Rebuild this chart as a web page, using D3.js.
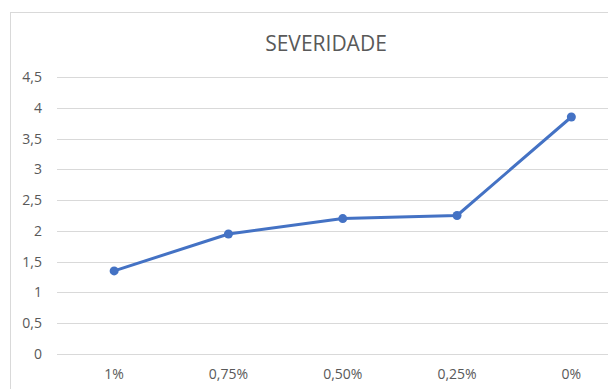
<!DOCTYPE html>
<html>
<head>
<meta charset="utf-8">
<script src="https://cdn.jsdelivr.net/npm/d3@7"></script>
<style>
  html, body { margin: 0; padding: 0; background: #fff; }
  svg { display: block; }
</style>
</head>
<body>
<svg id="chart" width="608" height="389"></svg>
<script>
// Severity by level
const categories = ["1%", "0,75%", "0,50%", "0,25%", "0%"];
const severity = [1.35, 1.95, 2.2, 2.25, 3.85];
const yTicks = [0, 0.5, 1, 1.5, 2, 2.5, 3, 3.5, 4, 4.5];
const title = "SEVERIDADE";

const svg = d3.select("#chart");
const font = "'Open Sans', 'Noto Sans', sans-serif";
const textColor = "#595959";

// chart area frame
svg.append("rect")
  .attr("x", 10.5).attr("y", 12.5)
  .attr("width", 640).attr("height", 400)
  .attr("fill", "#fff")
  .attr("stroke", "#d9d9d9").attr("stroke-width", 1);

const plot = { left: 57, right: 628.5, top: 77, bottom: 354 };

const x = d3.scaleBand()
  .domain(categories)
  .range([plot.left, plot.right]);

const y = d3.scaleLinear()
  .domain([0, 4.5])
  .range([plot.bottom, plot.top]);

const fmt = v => String(v).replace(".", ",");

// horizontal gridlines
svg.append("g")
  .selectAll("line")
  .data(yTicks)
  .join("line")
  .attr("x1", plot.left).attr("x2", plot.right)
  .attr("y1", d => Math.round(y(d)) + 0.5)
  .attr("y2", d => Math.round(y(d)) + 0.5)
  .attr("stroke", "#d9d9d9").attr("stroke-width", 1);

// y axis labels
const yAxis = d3.axisLeft(y).tickValues(yTicks).tickFormat(fmt).tickSize(0).tickPadding(0);
const gy = svg.append("g").attr("transform", `translate(${plot.left - 15},0)`).call(yAxis);
gy.select(".domain").remove();
gy.selectAll("text")
  .attr("fill", textColor)
  .style("font-family", font)
  .style("font-size", "14px");

// x axis labels
const xAxis = d3.axisBottom(x).tickSize(0).tickPadding(0);
const gx = svg.append("g").attr("transform", `translate(0,${plot.bottom + 15})`).call(xAxis);
gx.select(".domain").remove();
gx.selectAll("text")
  .attr("fill", textColor)
  .style("font-family", font)
  .style("font-size", "14px");

// title
svg.append("text")
  .attr("x", 326).attr("y", 51)
  .attr("text-anchor", "middle")
  .attr("fill", textColor)
  .style("font-family", font)
  .style("font-size", "21px")
  .text(title);

// series line
const cx = d => x(d) + x.bandwidth() / 2;
const line = d3.line()
  .x((d, i) => cx(categories[i]))
  .y(d => y(d));

svg.append("path")
  .datum(severity)
  .attr("d", line)
  .attr("fill", "none")
  .attr("stroke", "#4472c4")
  .attr("stroke-width", 3)
  .attr("stroke-linejoin", "round")
  .attr("stroke-linecap", "round");

svg.append("g")
  .selectAll("circle")
  .data(severity)
  .join("circle")
  .attr("cx", (d, i) => cx(categories[i]))
  .attr("cy", d => y(d))
  .attr("r", 4.5)
  .attr("fill", "#4472c4");
</script>
</body>
</html>
